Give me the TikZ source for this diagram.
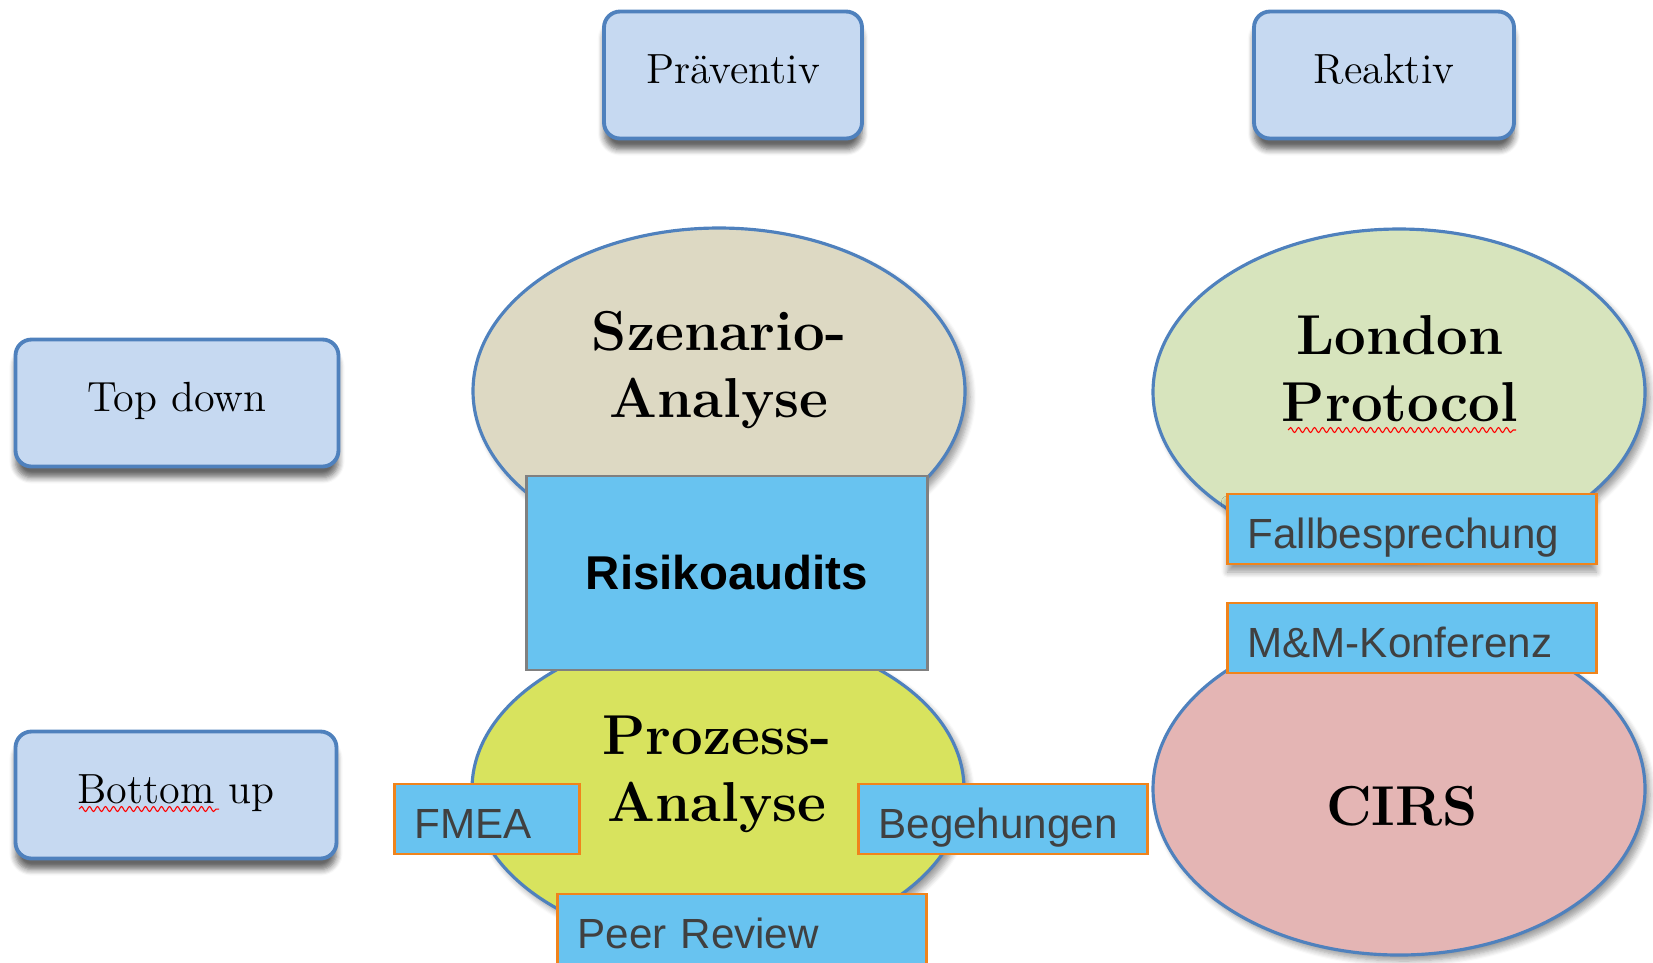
\documentclass[tikz,border=0pt]{standalone}
\usepackage{fontspec}
\usetikzlibrary{shapes.geometric,shadows.blur,decorations.pathmorphing}
\newfontfamily\arialfont{Liberation Sans}
\definecolor{boxblue}{RGB}{198,217,241}
\definecolor{rimblue}{RGB}{79,129,189}
\definecolor{tagblue}{RGB}{104,195,240}
\definecolor{tagorange}{RGB}{240,132,28}
\definecolor{tagtext}{RGB}{64,64,64}
\definecolor{szenfill}{RGB}{221,217,195}
\definecolor{londfill}{RGB}{215,228,189}
\definecolor{prozfill}{RGB}{216,227,94}
\definecolor{cirsfill}{RGB}{228,181,180}

\begin{document}
\begin{tikzpicture}[x=0.1mm,y=-0.1mm]
          \tikzstyle{every node}=[font=\fontsize{12}{14}\selectfont]
          \tikzstyle{axisbox}=[draw=rimblue, line width=1.1pt, fill=boxblue, rounded corners=1.6mm,
            minimum height=12.7mm, text height=3mm, text depth=1.36mm,
            blur shadow={shadow xshift=0pt, shadow yshift=-1.1mm, shadow opacity=60, shadow blur steps=6}]
          \tikzstyle{method}=[ellipse, draw=rimblue, line width=0.9pt, minimum width=49.2mm, inner sep=0pt,
            blur shadow={shadow xshift=0.5mm, shadow yshift=-0.6mm, shadow blur steps=6}]
          \tikzstyle{methodtext}=[align=center, font=\fontsize{16}{19}\selectfont\bfseries]
          \tikzstyle{tag}=[draw=tagorange, line width=0.7pt, fill=tagblue, text=tagtext, inner xsep=2mm,
            align=left, minimum height=7mm, text height=3.8mm, text depth=0mm,
            font=\arialfont\fontsize{12}{14}\selectfont]
          \useasboundingbox (0,0) rectangle (1653,962);

            % Achsen
            \node[axisbox, minimum width=25.8mm] (prae) at (733, 75) {Präventiv};
            \node[axisbox, minimum width=26mm] (reak) at (1384, 75) {Reaktiv};
            \node[axisbox, minimum width=32.3mm] (topd) at (177, 403) {Top down};
            \node[axisbox, minimum width=32.1mm] (botu) at (176, 795) {Bottom up};

            % Methoden
            \node[method, fill=szenfill, minimum height=32.6mm] (szen) at (719, 391) {};
            \node[method, fill=londfill, minimum height=32.6mm] (lond) at (1399, 392) {};
            \node[method, fill=prozfill, minimum height=31.6mm] (proz) at (718, 789) {};
            \node[method, fill=cirsfill, minimum height=33.2mm] (cirs) at (1399, 789) {};
            \node[methodtext] (szent) at (719, 370) {Szenario-\\Analyse};
            \node[methodtext] (londt) at (1400, 369) {London\\Protocol};
            \node[methodtext] (prozt) at (717, 774) {Prozess-\\Analyse};
            \node[methodtext] (cirst) at (1402, 806) {CIRS};

            \node[draw=gray, line width=0.6pt, fill=tagblue, minimum width=40.1mm, minimum height=19.4mm,
              font=\arialfont\bfseries\fontsize{13.5}{16}\selectfont] (risk) at (727, 573) {Risikoaudits};

            \node[tag, text width=14.5mm] (fmea) at (487, 819) {FMEA};
            \node[tag, text width=24.9mm] (bege) at (1003, 819) {Begehungen};
            \node[tag, text width=32.9mm] (peer) at (742, 929) {Peer Review};
            \node[tag, text width=32.9mm, blur shadow={shadow xshift=0pt, shadow yshift=-0.8mm, shadow blur steps=6}]
              (fall) at (1412, 529) {Fallbesprechung};
            \node[tag, text width=32.9mm] (mmko) at (1412, 638) {M\&M-Konferenz};

            \draw[red, line width=0.3pt, decorate, decoration={snake, amplitude=0.25mm, segment length=0.8mm}]
              (1288, 430) -- (1516, 430);
            \draw[red, line width=0.3pt, decorate, decoration={snake, amplitude=0.25mm, segment length=0.8mm}]
              (79, 809) -- (219, 809);
        \end{tikzpicture}
\end{document}
